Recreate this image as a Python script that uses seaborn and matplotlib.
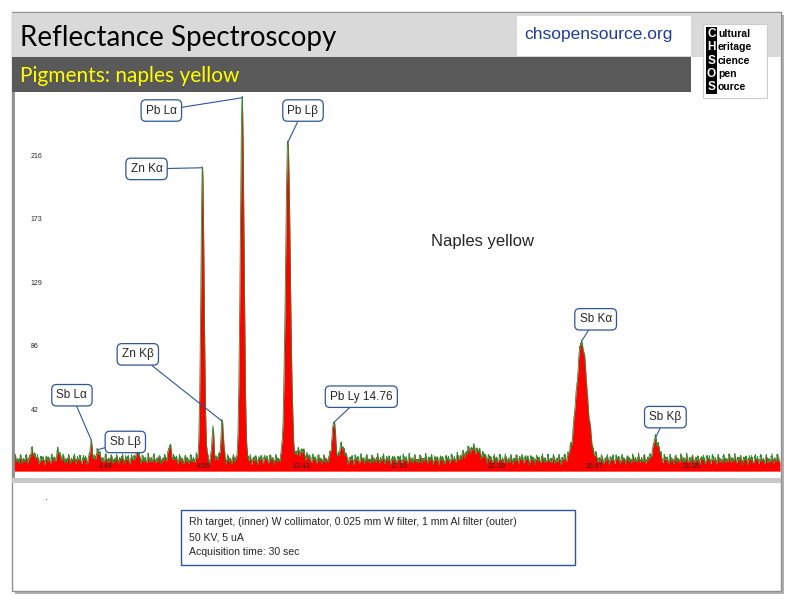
import numpy as np
import pandas as pd
import seaborn as sns
import matplotlib.pyplot as plt
from matplotlib.patches import Rectangle

sns.set_theme(style="white")
plt.rcParams['font.family'] = ['Liberation Sans', 'DejaVu Sans']

peak_kev = [1.1, 2.3, 3.8, 4.1, 5.9, 7.4, 8.9, 9.38, 9.8, 10.72, 12.82, 13.4, 14.92, 15.3, 21.3, 26.3, 29.7]
peak_cts = [6, 5, 12, 8, 6, 8, 200, 20, 25, 248, 218, 6, 26, 10, 7, 80, 14]
peak_wid = [0.08, 0.08, 0.05, 0.05, 0.08, 0.08, 0.075, 0.05, 0.06, 0.085, 0.11, 0.2, 0.08, 0.1, 0.35, 0.24, 0.13]
tick_kev = [4.48, 8.95, 13.43, 17.91, 22.39, 26.87, 31.35]
tick_cts = [42, 86, 129, 173, 216]

labels = ["Sb Lα", "Sb Lβ", "Zn Kα", "Zn Kβ", "Pb Lα", "Pb Lβ", "Pb Ly 14.76", "Sb Kα", "Sb Kβ"]
label_peak = [3.8, 4.1, 8.9, 9.8, 10.72, 12.82, 14.92, 26.3, 29.7]
label_box = [(2.2, 52), (4.65, 20), (5.6, 207), (5.2, 80), (6.3, 247), (12.8, 247), (14.75, 51), (26.2, 104), (29.4, 37)]

E = np.linspace(0.25, 35.4, 1800)
background = 4 + 3 * (1 + np.sin(E * 37.0) * np.cos(E * 11.3)) + 2.5 * np.sin(E * 91.0) ** 2
spec = background.copy()
for c, h, w in zip(peak_kev, peak_cts, peak_wid):
    spec += h * np.exp(-0.5 * ((E - c) / w) ** 2)
df = pd.DataFrame({"keV": E, "counts": spec})

W, H = 794, 603
fig = plt.figure(figsize=(W / 100, H / 100), dpi=100)
fig.patch.set_facecolor("white")

def px(x0, y0, x1, y1):
    return [x0 / W, 1 - y1 / H, (x1 - x0) / W, (y1 - y0) / H]

bg = fig.add_axes([0, 0, 1, 1]); bg.set_xlim(0, W); bg.set_ylim(H, 0); bg.axis("off")
bg.add_patch(Rectangle((15, 15), 769, 579, fc="#b0b0b0", ec="none"))
bg.add_patch(Rectangle((12, 12), 769, 579, fc="white", ec="#909090", lw=1))
bg.add_patch(Rectangle((12, 13), 769, 44, fc="#d9d9d9", ec="none"))
bg.add_patch(Rectangle((12, 57), 679, 35, fc="#595959", ec="none"))
bg.text(20, 38, "Reflectance Spectroscopy", fontsize=20, va="center", color="black", family="Lato")
bg.text(20, 76, "Pigments: naples yellow", fontsize=15, va="center", color="#ffff00", family="Lato")
bg.add_patch(Rectangle((517, 16), 174, 40, fc="white", ec="none"))
bg.text(524, 35, "chsopensource.org", fontsize=12.5, va="center", color="#1f3c99")
bg.add_patch(Rectangle((12, 478), 769, 5, fc="#c8c8c8", ec="none"))
bg.text(45, 500, ".", fontsize=8)
bg.add_patch(Rectangle((181, 510), 394, 55, fc="white", ec="#2f5597", lw=1))
bg.text(189, 522, "Rh target, (inner) W collimator, 0.025 mm W filter, 1 mm Al filter (outer)", fontsize=7.6, va="center")
bg.text(189, 537, "50 KV, 5 uA", fontsize=7.6, va="center")
bg.text(189, 552, "Acquisition time: 30 sec", fontsize=7.6, va="center")

ax = fig.add_axes(px(14, 93, 780, 477))
ax.fill_between(df["keV"], df["counts"], color="#ff0000", lw=0)
sns.lineplot(data=df, x="keV", y="counts", ax=ax, color="#2e8b2e", lw=0.6)
ax.set_xlim(0.25, 35.4)
ax.set_ylim(-4, 259)
ax.set_xlabel(""); ax.set_ylabel("")
for s in ["top", "right", "bottom"]:
    ax.spines[s].set_visible(False)
ax.spines["left"].set_color("#888888")
ax.set_xticks([])
for t in tick_kev:
    ax.text(t, 1, f"{t:.2f}", fontsize=5, ha="center", va="bottom", zorder=10)
ax.set_yticks(tick_cts)
ax.set_yticklabels([str(t) for t in tick_cts], fontsize=5)
ax.set_yticks(np.arange(0, 258, 8.6), minor=True)
ax.tick_params(axis="y", which="both", direction="in", length=3, color="#5070a0", pad=-12)
for lab in ax.get_yticklabels():
    lab.set_horizontalalignment("left")

for lab, pk, (bx, by) in zip(labels, label_peak, label_box):
    yy = np.interp(pk, df["keV"], df["counts"])
    ax.annotate(lab, xy=(pk, yy), xytext=(bx, by), fontsize=8.5, ha="left", va="center",
                bbox=dict(boxstyle="round,pad=0.4", fc="white", ec="#2f5597", lw=0.9),
                arrowprops=dict(arrowstyle="-", color="#2f5597", lw=0.8, shrinkA=0, shrinkB=0))
ax.text(19.4, 157, "Naples yellow", fontsize=12, va="center")

# logo au-dessus du graphique
lg = fig.add_axes([0, 0, 1, 1]); lg.set_xlim(0, W); lg.set_ylim(H, 0); lg.axis("off")
lg.add_patch(Rectangle((703, 24), 64, 74, fc="white", ec="#cccccc", lw=0.8))
for i, (ch, rest) in enumerate(zip("CHSOS", ["ultural", "eritage", "cience", "pen", "ource"])):
    y = 34 + i * 13.3
    lg.add_patch(Rectangle((706, y - 6.65), 11, 13.3, fc="black", ec="none"))
    lg.text(711.5, y, ch, color="white", fontsize=8.5, fontweight="bold", ha="center", va="center")
    lg.text(718, y, rest, color="black", fontsize=7.5, fontweight="bold", va="center")

fig.savefig("out.png", dpi=100)
